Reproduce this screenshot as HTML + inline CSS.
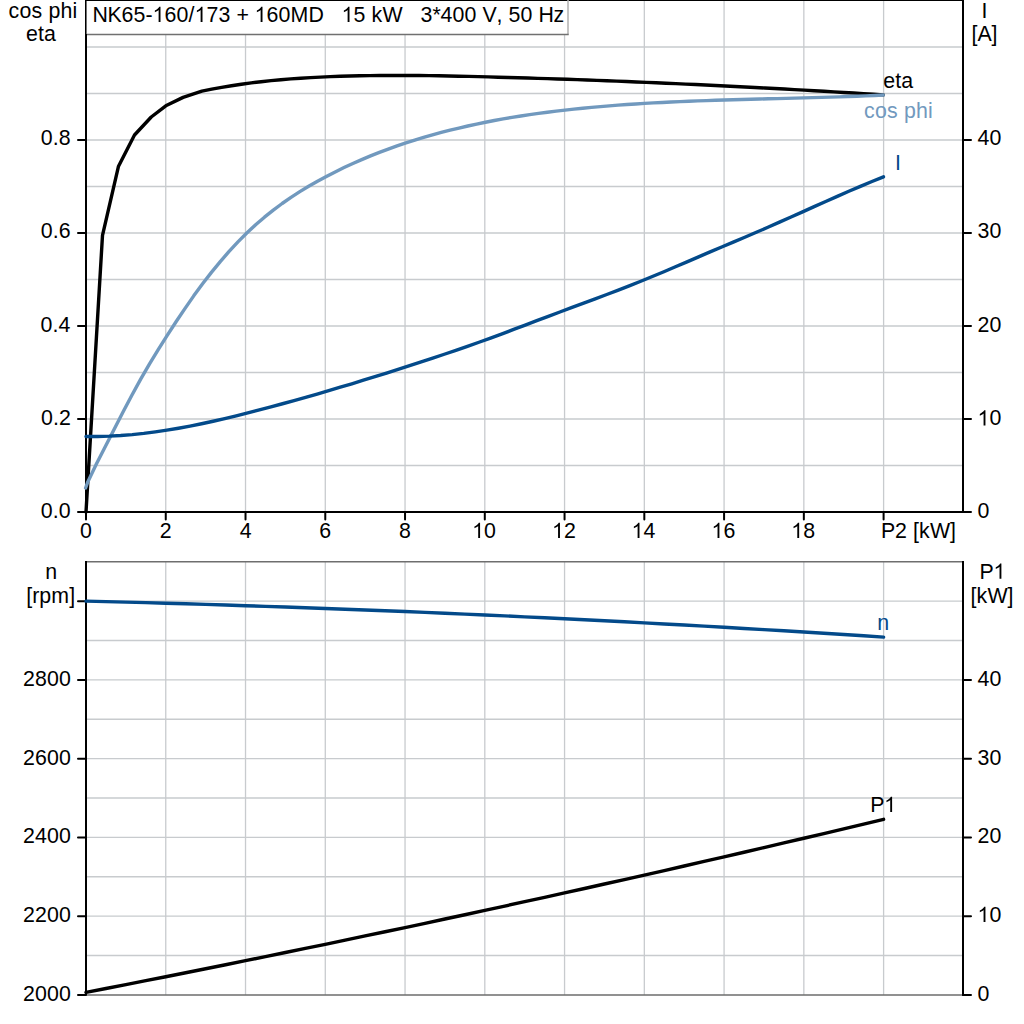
<!DOCTYPE html><html><head><meta charset="utf-8"><style>html,body{margin:0;padding:0;background:#fff;width:1024px;height:1024px;overflow:hidden}</style></head><body><svg width="1024" height="1024" viewBox="0 0 1024 1024" style="display:block">
<rect x="0" y="0" width="1024" height="1024" fill="#fff"/>
<path d="M86.0,465.50H963.0 M86.0,419.00H963.0 M86.0,372.50H963.0 M86.0,326.00H963.0 M86.0,279.50H963.0 M86.0,233.00H963.0 M86.0,186.50H963.0 M86.0,140.00H963.0 M86.0,93.50H963.0 M86.0,47.00H963.0 M165.76,0V512.0 M245.52,0V512.0 M325.28,0V512.0 M405.04,0V512.0 M484.80,0V512.0 M564.56,0V512.0 M644.32,0V512.0 M724.08,0V512.0 M803.84,0V512.0 M883.60,0V512.0 M86.0,955.52H963.0 M86.0,916.15H963.0 M86.0,876.77H963.0 M86.0,837.40H963.0 M86.0,798.02H963.0 M86.0,758.65H963.0 M86.0,719.27H963.0 M86.0,679.90H963.0 M86.0,640.52H963.0 M86.0,601.15H963.0 M165.76,561.5V994.9 M245.52,561.5V994.9 M325.28,561.5V994.9 M405.04,561.5V994.9 M484.80,561.5V994.9 M564.56,561.5V994.9 M644.32,561.5V994.9 M724.08,561.5V994.9 M803.84,561.5V994.9 M883.60,561.5V994.9" stroke="#c8cbce" stroke-width="1.3" fill="none"/>
<path d="M86.0,561.8H963.0 M86.0,995.0H963.0" stroke="#6e6e6e" stroke-width="1.6" fill="none"/>
<path d="M86.0,0V512 M963.0,0V513 M85.0,512.0H964.0" stroke="#000" stroke-width="2" fill="none"/>
<rect x="85.0" y="0" width="879.0" height="1" fill="#000"/>
<path d="M78,512.00H86.0 M963.0,512.00H971 M78,419.00H86.0 M963.0,419.00H971 M78,326.00H86.0 M963.0,326.00H971 M78,233.00H86.0 M963.0,233.00H971 M78,140.00H86.0 M963.0,140.00H971 M86.00,512.0V519.5 M165.76,512.0V519.5 M245.52,512.0V519.5 M325.28,512.0V519.5 M405.04,512.0V519.5 M484.80,512.0V519.5 M564.56,512.0V519.5 M644.32,512.0V519.5 M724.08,512.0V519.5 M803.84,512.0V519.5 M883.60,512.0V519.5 M78,994.90H86.0 M963.0,994.90H971 M78,916.15H86.0 M963.0,916.15H971 M78,837.40H86.0 M963.0,837.40H971 M78,758.65H86.0 M963.0,758.65H971 M78,679.90H86.0 M963.0,679.90H971 M78,601.15H86.0" stroke="#000" stroke-width="2" stroke-linecap="round" fill="none"/>
<path d="M86.0,561V994.9 M963.0,561V995.6999999999999" stroke="#000" stroke-width="2" fill="none"/>
<polyline points="86.00,512.00 102.50,235.30 118.40,166.60 134.50,135.00 151.25,117.00 165.80,105.80 183.10,97.40 201.90,91.17 211.78,89.16 221.65,87.34 231.53,85.70 241.40,84.21 251.28,82.88 261.15,81.69 271.03,80.64 280.90,79.71 290.78,78.91 300.65,78.20 310.53,77.60 320.40,77.09 330.28,76.65 340.16,76.29 350.03,76.00 359.91,75.77 369.78,75.60 379.66,75.49 389.53,75.44 399.41,75.43 409.28,75.47 419.16,75.55 429.03,75.67 438.91,75.81 448.78,75.99 458.66,76.20 468.53,76.42 478.41,76.66 488.29,76.92 498.16,77.18 508.04,77.45 517.91,77.74 527.79,78.03 537.66,78.34 547.54,78.65 557.41,78.98 567.29,79.31 577.16,79.66 587.04,80.01 596.91,80.38 606.79,80.75 616.67,81.13 626.54,81.53 636.42,81.93 646.29,82.34 656.17,82.76 666.04,83.19 675.92,83.63 685.79,84.08 695.67,84.54 705.54,85.00 715.42,85.48 725.29,85.96 735.17,86.45 745.04,86.95 754.92,87.46 764.80,87.98 774.67,88.51 784.55,89.05 794.42,89.59 804.30,90.14 814.17,90.70 824.05,91.27 833.92,91.85 843.80,92.43 853.67,93.02 863.55,93.62 873.42,94.23 883.30,94.85" stroke="#000" stroke-width="3.4" fill="none" stroke-linejoin="round" stroke-linecap="round"/>
<polyline points="85.60,488.00 87.90,481.70 96.50,463.69 105.34,446.50 114.18,429.22 123.02,412.08 131.86,395.31 140.70,379.14 149.54,363.81 158.38,349.28 167.22,335.34 176.06,321.79 184.90,308.57 193.74,295.86 202.59,283.79 211.43,272.35 220.27,261.57 229.11,251.42 237.95,241.92 246.79,233.06 255.63,224.83 264.47,217.19 273.31,210.09 282.15,203.50 290.99,197.35 299.83,191.62 308.67,186.25 317.51,181.20 326.35,176.43 335.19,171.89 344.03,167.58 352.87,163.48 361.71,159.60 370.55,155.91 379.39,152.41 388.23,149.09 397.08,145.95 405.92,142.96 414.76,140.13 423.60,137.45 432.44,134.90 441.28,132.48 450.12,130.20 458.96,128.04 467.80,125.99 476.64,124.06 485.48,122.24 494.32,120.53 503.16,118.92 512.00,117.40 520.84,115.98 529.68,114.65 538.52,113.39 547.36,112.22 556.20,111.12 565.04,110.09 573.88,109.12 582.72,108.22 591.57,107.38 600.41,106.59 609.25,105.86 618.09,105.18 626.93,104.55 635.77,103.96 644.61,103.42 653.45,102.91 662.29,102.45 671.13,102.02 679.97,101.62 688.81,101.25 697.65,100.91 706.49,100.59 715.33,100.29 724.17,100.01 733.01,99.75 741.85,99.50 750.69,99.26 759.53,99.03 768.37,98.80 777.21,98.58 786.06,98.35 794.90,98.13 803.74,97.89 812.58,97.65 821.42,97.39 830.26,97.12 839.10,96.83 847.94,96.53 856.78,96.20 865.62,95.84 874.46,95.46 883.30,95.04" stroke="#7199be" stroke-width="3.4" fill="none" stroke-linejoin="round" stroke-linecap="round"/>
<polyline points="86.00,436.43 97.56,436.45 109.12,436.14 120.67,435.51 132.23,434.57 143.79,433.36 155.35,431.88 166.91,430.16 178.46,428.21 190.02,426.06 201.58,423.73 213.14,421.22 224.70,418.57 236.25,415.79 247.81,412.91 259.37,409.93 270.93,406.88 282.49,403.76 294.04,400.58 305.60,397.34 317.16,394.03 328.72,390.67 340.28,387.24 351.83,383.77 363.39,380.24 374.95,376.67 386.51,373.04 398.07,369.37 409.62,365.66 421.18,361.91 432.74,358.11 444.30,354.26 455.86,350.35 467.41,346.35 478.97,342.27 490.53,338.08 502.09,333.80 513.64,329.46 525.20,325.07 536.76,320.68 548.32,316.30 559.88,311.97 571.43,307.66 582.99,303.37 594.55,299.06 606.11,294.72 617.67,290.31 629.22,285.83 640.78,281.24 652.34,276.53 663.90,271.71 675.46,266.80 687.01,261.84 698.57,256.86 710.13,251.89 721.69,246.95 733.25,242.07 744.80,237.21 756.36,232.29 767.92,227.28 779.48,222.18 791.04,217.03 802.59,211.84 814.15,206.65 825.71,201.47 837.27,196.35 848.83,191.30 860.38,186.35 871.94,181.52 883.50,176.85" stroke="#034a8a" stroke-width="3.4" fill="none" stroke-linejoin="round" stroke-linecap="round"/>
<polyline points="86.00,601.10 105.94,601.60 125.88,602.12 145.82,602.66 165.76,603.22 185.70,603.81 205.64,604.41 225.58,605.03 245.52,605.68 265.46,606.34 285.40,607.02 305.34,607.73 325.28,608.46 345.22,609.20 365.16,609.97 385.10,610.76 405.04,611.56 424.98,612.39 444.92,613.24 464.86,614.11 484.80,615.00 504.74,615.91 524.68,616.84 544.62,617.79 564.56,618.76 584.50,619.76 604.44,620.77 624.38,621.80 644.32,622.86 664.26,623.93 684.20,625.03 704.14,626.14 724.08,627.28 744.02,628.43 763.96,629.61 783.90,630.81 803.84,632.02 823.78,633.26 843.72,634.52 863.66,635.80 883.60,637.10" stroke="#034a8a" stroke-width="3.4" fill="none" stroke-linejoin="round" stroke-linecap="round"/>
<polyline points="86.00,992.40 105.94,988.52 125.88,984.61 145.82,980.68 165.76,976.73 185.70,972.76 205.64,968.76 225.58,964.74 245.52,960.70 265.46,956.63 285.40,952.54 305.34,948.43 325.28,944.30 345.22,940.14 365.16,935.96 385.10,931.76 405.04,927.54 424.98,923.29 444.92,919.02 464.86,914.73 484.80,910.41 504.74,906.07 524.68,901.71 544.62,897.32 564.56,892.92 584.50,888.49 604.44,884.03 624.38,879.56 644.32,875.06 664.26,870.54 684.20,866.00 704.14,861.43 724.08,856.84 744.02,852.23 763.96,847.59 783.90,842.93 803.84,838.25 823.78,833.55 843.72,828.82 863.66,824.07 883.60,819.30" stroke="#000" stroke-width="3.4" fill="none" stroke-linejoin="round" stroke-linecap="round"/>
<rect x="86.0" y="1" width="482" height="33.5" fill="#fff"/>
<path d="M568,0V34.5" stroke="#b0b0b0" stroke-width="1.5" fill="none"/>
<path d="M86.0,34.5H568.7" stroke="#707070" stroke-width="1.3" fill="none"/>
<path d="M86.0,0V40" stroke="#000" stroke-width="2" fill="none"/>
<rect x="86" y="1" width="1" height="33" fill="#707070"/>
<text x="92.55 107.55 121.55 133.55 145.55 152.55 164.55 176.55 188.55 194.55 206.55 218.55 230.55 236.55 248.55 254.55 266.55 278.55 290.55 308.55 323.55 329.55 335.55 341.55 353.55 365.55 371.55 382.55 402.55 408.55 414.55 420.55 432.55 440.55 452.55 464.55 476.55 482.55 496.55 502.55 508.55 520.55 532.55 538.55 553.55" y="22" fill="#000" font-family='"Liberation Sans", sans-serif' font-size="21.33" xml:space="preserve">NK65- 60/ 73 +  60MD    5 kW   3*400 V, 50 Hz</text>
<path d="M763 0H583V1147C540 1106 483 1065 413 1024C343 983 280 952 223 930V1104C323 1151 411 1208 486 1275C561 1342 614 1405 645 1466H763Z" fill="#000" transform="translate(152.55,22) scale(0.010415,-0.010415)"/>
<path d="M763 0H583V1147C540 1106 483 1065 413 1024C343 983 280 952 223 930V1104C323 1151 411 1208 486 1275C561 1342 614 1405 645 1466H763Z" fill="#000" transform="translate(194.55,22) scale(0.010415,-0.010415)"/>
<path d="M763 0H583V1147C540 1106 483 1065 413 1024C343 983 280 952 223 930V1104C323 1151 411 1208 486 1275C561 1342 614 1405 645 1466H763Z" fill="#000" transform="translate(254.55,22) scale(0.010415,-0.010415)"/>
<path d="M763 0H583V1147C540 1106 483 1065 413 1024C343 983 280 952 223 930V1104C323 1151 411 1208 486 1275C561 1342 614 1405 645 1466H763Z" fill="#000" transform="translate(341.55,22) scale(0.010415,-0.010415)"/>
<text x="8.40 19.40 31.40 42.40 48.40 60.40 72.40" y="18" fill="#000" font-family='"Liberation Sans", sans-serif' font-size="21.33" xml:space="preserve">cos phi</text>
<text x="26.02 38.02 44.02" y="40.9" fill="#000" font-family='"Liberation Sans", sans-serif' font-size="21.33" xml:space="preserve">eta</text>
<text x="981.44" y="17.8" fill="#000" font-family='"Liberation Sans", sans-serif' font-size="21.33" xml:space="preserve">I</text>
<text x="971.54 977.54 991.54" y="40.9" fill="#000" font-family='"Liberation Sans", sans-serif' font-size="21.33" xml:space="preserve">[A]</text>
<text x="40.77 52.77 58.77" y="518.4" fill="#000" font-family='"Liberation Sans", sans-serif' font-size="21.33" xml:space="preserve">0.0</text>
<text x="41.01 53.01 59.01" y="425.4" fill="#000" font-family='"Liberation Sans", sans-serif' font-size="21.33" xml:space="preserve">0.2</text>
<text x="40.56 52.56 58.56" y="332.4" fill="#000" font-family='"Liberation Sans", sans-serif' font-size="21.33" xml:space="preserve">0.4</text>
<text x="40.87 52.87 58.87" y="238.4" fill="#000" font-family='"Liberation Sans", sans-serif' font-size="21.33" xml:space="preserve">0.6</text>
<text x="40.86 52.86 58.86" y="145.4" fill="#000" font-family='"Liberation Sans", sans-serif' font-size="21.33" xml:space="preserve">0.8</text>
<text x="977.50" y="518.4" fill="#000" font-family='"Liberation Sans", sans-serif' font-size="21.33" xml:space="preserve">0</text>
<text x="977.50 989.50" y="425.4" fill="#000" font-family='"Liberation Sans", sans-serif' font-size="21.33" xml:space="preserve"> 0</text>
<path d="M763 0H583V1147C540 1106 483 1065 413 1024C343 983 280 952 223 930V1104C323 1151 411 1208 486 1275C561 1342 614 1405 645 1466H763Z" fill="#000" transform="translate(977.50,425.4) scale(0.010415,-0.010415)"/>
<text x="977.50 989.50" y="332.4" fill="#000" font-family='"Liberation Sans", sans-serif' font-size="21.33" xml:space="preserve">20</text>
<text x="977.50 989.50" y="238.4" fill="#000" font-family='"Liberation Sans", sans-serif' font-size="21.33" xml:space="preserve">30</text>
<text x="977.50 989.50" y="145.4" fill="#000" font-family='"Liberation Sans", sans-serif' font-size="21.33" xml:space="preserve">40</text>
<text x="80.07" y="538" fill="#000" font-family='"Liberation Sans", sans-serif' font-size="21.33" xml:space="preserve">0</text>
<text x="159.83" y="538" fill="#000" font-family='"Liberation Sans", sans-serif' font-size="21.33" xml:space="preserve">2</text>
<text x="239.66" y="538" fill="#000" font-family='"Liberation Sans", sans-serif' font-size="21.33" xml:space="preserve">4</text>
<text x="319.28" y="538" fill="#000" font-family='"Liberation Sans", sans-serif' font-size="21.33" xml:space="preserve">6</text>
<text x="399.11" y="538" fill="#000" font-family='"Liberation Sans", sans-serif' font-size="21.33" xml:space="preserve">8</text>
<text x="472.12 484.12" y="538" fill="#000" font-family='"Liberation Sans", sans-serif' font-size="21.33" xml:space="preserve"> 0</text>
<path d="M763 0H583V1147C540 1106 483 1065 413 1024C343 983 280 952 223 930V1104C323 1151 411 1208 486 1275C561 1342 614 1405 645 1466H763Z" fill="#000" transform="translate(472.12,538) scale(0.010415,-0.010415)"/>
<text x="552.00 564.00" y="538" fill="#000" font-family='"Liberation Sans", sans-serif' font-size="21.33" xml:space="preserve"> 2</text>
<path d="M763 0H583V1147C540 1106 483 1065 413 1024C343 983 280 952 223 930V1104C323 1151 411 1208 486 1275C561 1342 614 1405 645 1466H763Z" fill="#000" transform="translate(552.00,538) scale(0.010415,-0.010415)"/>
<text x="631.54 643.54" y="538" fill="#000" font-family='"Liberation Sans", sans-serif' font-size="21.33" xml:space="preserve"> 4</text>
<path d="M763 0H583V1147C540 1106 483 1065 413 1024C343 983 280 952 223 930V1104C323 1151 411 1208 486 1275C561 1342 614 1405 645 1466H763Z" fill="#000" transform="translate(631.54,538) scale(0.010415,-0.010415)"/>
<text x="711.46 723.46" y="538" fill="#000" font-family='"Liberation Sans", sans-serif' font-size="21.33" xml:space="preserve"> 6</text>
<path d="M763 0H583V1147C540 1106 483 1065 413 1024C343 983 280 952 223 930V1104C323 1151 411 1208 486 1275C561 1342 614 1405 645 1466H763Z" fill="#000" transform="translate(711.46,538) scale(0.010415,-0.010415)"/>
<text x="791.21 803.21" y="538" fill="#000" font-family='"Liberation Sans", sans-serif' font-size="21.33" xml:space="preserve"> 8</text>
<path d="M763 0H583V1147C540 1106 483 1065 413 1024C343 983 280 952 223 930V1104C323 1151 411 1208 486 1275C561 1342 614 1405 645 1466H763Z" fill="#000" transform="translate(791.21,538) scale(0.010415,-0.010415)"/>
<text x="881.05 895.05 907.05 913.05 919.05 930.05 950.05" y="538" fill="#000" font-family='"Liberation Sans", sans-serif' font-size="21.33" xml:space="preserve">P2 [kW]</text>
<text x="883.29 895.29 901.29" y="87.9" fill="#000" font-family='"Liberation Sans", sans-serif' font-size="21.33" xml:space="preserve">eta</text>
<text x="863.99 874.99 886.99 897.99 903.99 915.99 927.99" y="117.7" fill="#7199be" font-family='"Liberation Sans", sans-serif' font-size="21.33" xml:space="preserve">cos phi</text>
<text x="894.94" y="169.9" fill="#034a8a" font-family='"Liberation Sans", sans-serif' font-size="21.33" xml:space="preserve">I</text>
<text x="45.25" y="578.9" fill="#000" font-family='"Liberation Sans", sans-serif' font-size="21.33" xml:space="preserve">n</text>
<text x="26.29 32.29 39.29 51.29 69.29" y="603" fill="#000" font-family='"Liberation Sans", sans-serif' font-size="21.33" xml:space="preserve">[rpm]</text>
<text x="979.45 993.45" y="578.75" fill="#000" font-family='"Liberation Sans", sans-serif' font-size="21.33" xml:space="preserve">P </text>
<path d="M763 0H583V1147C540 1106 483 1065 413 1024C343 983 280 952 223 930V1104C323 1151 411 1208 486 1275C561 1342 614 1405 645 1466H763Z" fill="#000" transform="translate(993.45,578.75) scale(0.010415,-0.010415)"/>
<text x="970.44 976.44 987.44 1007.44" y="602.8" fill="#000" font-family='"Liberation Sans", sans-serif' font-size="21.33" xml:space="preserve">[kW]</text>
<text x="22.97 34.97 46.97 58.97" y="1000.8" fill="#000" font-family='"Liberation Sans", sans-serif' font-size="21.33" xml:space="preserve">2000</text>
<text x="22.97 34.97 46.97 58.97" y="922.0" fill="#000" font-family='"Liberation Sans", sans-serif' font-size="21.33" xml:space="preserve">2200</text>
<text x="22.97 34.97 46.97 58.97" y="843.3" fill="#000" font-family='"Liberation Sans", sans-serif' font-size="21.33" xml:space="preserve">2400</text>
<text x="22.97 34.97 46.97 58.97" y="764.5" fill="#000" font-family='"Liberation Sans", sans-serif' font-size="21.33" xml:space="preserve">2600</text>
<text x="22.97 34.97 46.97 58.97" y="685.8" fill="#000" font-family='"Liberation Sans", sans-serif' font-size="21.33" xml:space="preserve">2800</text>
<text x="977.50" y="1000.8" fill="#000" font-family='"Liberation Sans", sans-serif' font-size="21.33" xml:space="preserve">0</text>
<text x="977.50 989.50" y="922.0" fill="#000" font-family='"Liberation Sans", sans-serif' font-size="21.33" xml:space="preserve"> 0</text>
<path d="M763 0H583V1147C540 1106 483 1065 413 1024C343 983 280 952 223 930V1104C323 1151 411 1208 486 1275C561 1342 614 1405 645 1466H763Z" fill="#000" transform="translate(977.50,922.0) scale(0.010415,-0.010415)"/>
<text x="977.50 989.50" y="843.3" fill="#000" font-family='"Liberation Sans", sans-serif' font-size="21.33" xml:space="preserve">20</text>
<text x="977.50 989.50" y="764.5" fill="#000" font-family='"Liberation Sans", sans-serif' font-size="21.33" xml:space="preserve">30</text>
<text x="977.50 989.50" y="685.8" fill="#000" font-family='"Liberation Sans", sans-serif' font-size="21.33" xml:space="preserve">40</text>
<text x="877.25" y="629.8" fill="#034a8a" font-family='"Liberation Sans", sans-serif' font-size="21.33" xml:space="preserve">n</text>
<text x="870.15 884.15" y="812" fill="#000" font-family='"Liberation Sans", sans-serif' font-size="21.33" xml:space="preserve">P </text>
<path d="M763 0H583V1147C540 1106 483 1065 413 1024C343 983 280 952 223 930V1104C323 1151 411 1208 486 1275C561 1342 614 1405 645 1466H763Z" fill="#000" transform="translate(884.15,812) scale(0.010415,-0.010415)"/>
</svg></body></html>
